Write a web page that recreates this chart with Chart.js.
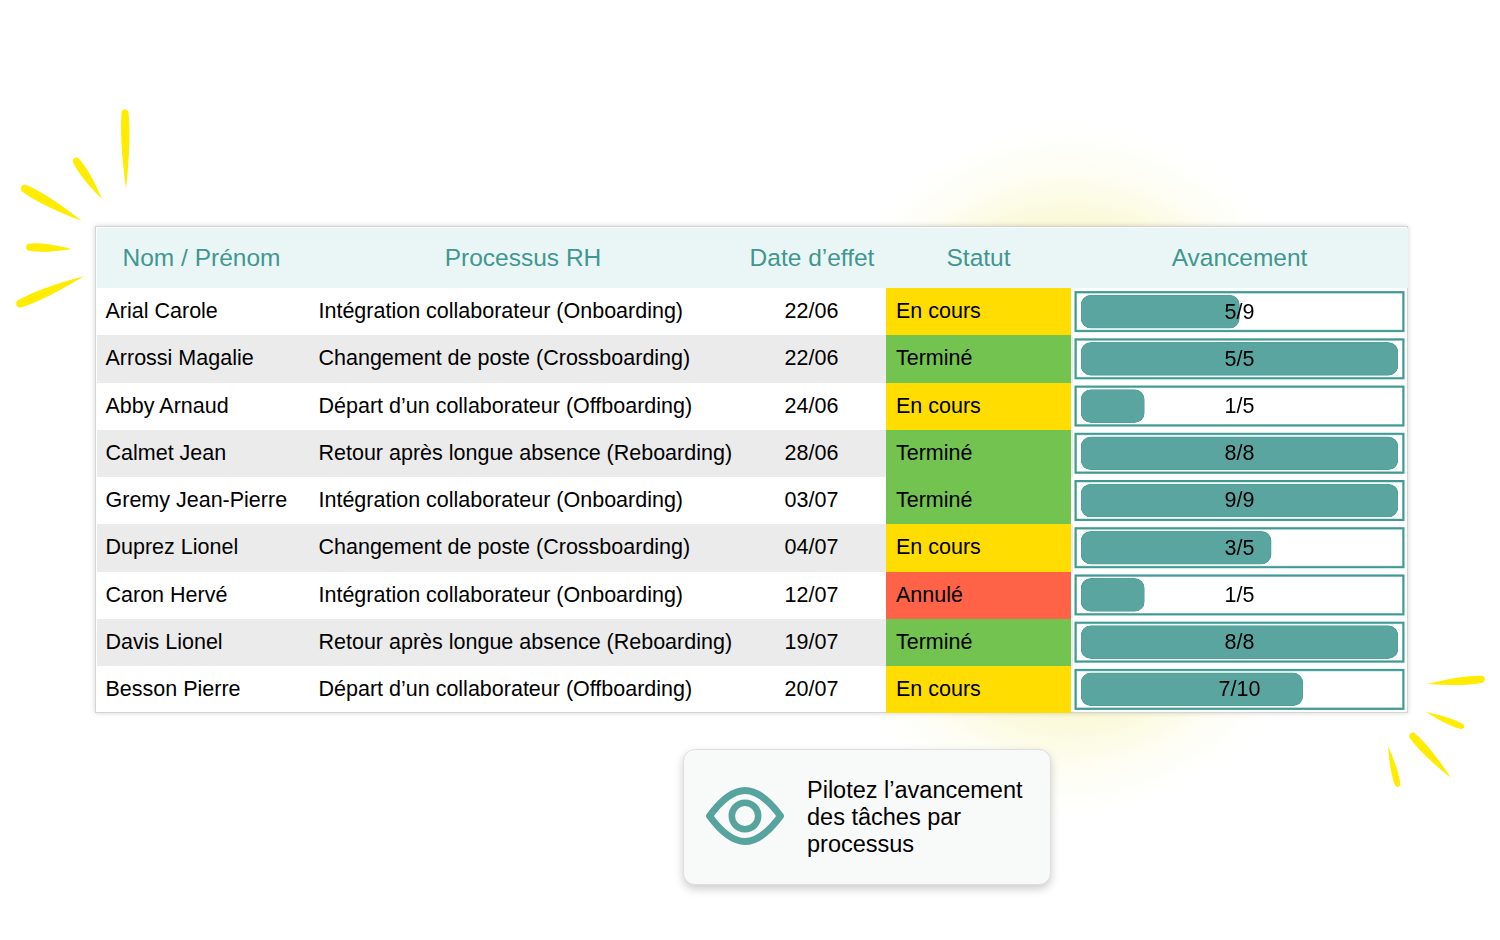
<!DOCTYPE html>
<html lang="fr">
<head>
<meta charset="utf-8">
<title>Pilotez l'avancement</title>
<script src="https://cdn.jsdelivr.net/npm/chart.js@4"></script>
<style>
html, body { margin: 0; padding: 0; background: #fff; }
body { width: 1500px; height: 940px; position: relative; overflow: hidden; font-family: "Liberation Sans", Arial, sans-serif; color: #000; }
#glow { position: absolute; left: 0; top: 0; width: 1500px; height: 940px;
	background: radial-gradient(ellipse 280px 350px at 1070px 470px, rgba(240,235,120,.5) 0, rgba(240,235,120,.3) 70%, rgba(240,235,120,.08) 86%, rgba(240,235,120,0) 100%); }
#sparks { position: absolute; left: 0; top: 0; }
#table { position: absolute; left: 95px; top: 226px; width: 1313px; height: 487px; background: #fff; border: 1px solid #d4d4d4; box-sizing: border-box; box-shadow: 0 0 5px rgba(0,0,0,.18); }
.head { position: absolute; left: 97px; top: 228px; width: 1311px; height: 60px; background: #eaf6f6; }
.hcell { position: absolute; top: 228px; height: 60px; line-height: 60px; font-size: 24.5px; color: #41978f; transform: translateX(-50%); white-space: nowrap; }
.stripe { position: absolute; left: 97px; width: 976px; background: #ebebeb; }
.status { position: absolute; left: 886px; width: 185px; }
.cell { position: absolute; font-size: 21.5px; white-space: nowrap; }
#progress { position: absolute; left: 1072px; top: 288px; }
#card { position: absolute; left: 683px; top: 749px; width: 368px; height: 136px; box-sizing: border-box; background: #f8faf9; border: 1px solid #dedede; border-radius: 12px; box-shadow: 0 4px 10px rgba(0,0,0,.2); }
#cardText { position: absolute; left: 807px; top: 777px; font-size: 23.5px; line-height: 27.2px; white-space: nowrap; }
#eye { position: absolute; left: 700px; top: 780px; }
</style>
</head>
<body>
<div id="glow"></div>
<svg id="sparks" width="1500" height="940"></svg>
<div id="table"></div>
<div class="head"></div>
<div id="rows"></div>
<canvas id="progress" width="336" height="425"></canvas>
<div id="card"></div>
<svg id="eye" width="90" height="72" viewBox="700 780 90 72">
	<path d="M709.5 816 C722 799 733 790.500 745 790.500 C757 790.500 768 799 780.500 816 C768 833 757 841.500 745 841.500 C733 841.500 722 833 709.500 816 Z" fill="none" stroke="#57a49e" stroke-width="7" stroke-linejoin="round"/>
	<circle cx="745" cy="816" r="13.200" fill="none" stroke="#57a49e" stroke-width="6.500"/>
</svg>
<div id="cardText">Pilotez l’avancement<br>des tâches par<br>processus</div>
<script>
'use strict'

const headers = ['Nom / Prénom', 'Processus RH', 'Date d’effet', 'Statut', 'Avancement'];
const names = ['Arial Carole', 'Arrossi Magalie', 'Abby Arnaud', 'Calmet Jean', 'Gremy Jean-Pierre', 'Duprez Lionel', 'Caron Hervé', 'Davis Lionel', 'Besson Pierre'];
const processes = [
	'Intégration collaborateur (Onboarding)',
	'Changement de poste (Crossboarding)',
	'Départ d’un collaborateur (Offboarding)',
	'Retour après longue absence (Reboarding)',
	'Intégration collaborateur (Onboarding)',
	'Changement de poste (Crossboarding)',
	'Intégration collaborateur (Onboarding)',
	'Retour après longue absence (Reboarding)',
	'Départ d’un collaborateur (Offboarding)',
];
const dates = ['22/06', '22/06', '24/06', '28/06', '03/07', '04/07', '12/07', '19/07', '20/07'];
const statuses = ['En cours', 'Terminé', 'En cours', 'Terminé', 'Terminé', 'En cours', 'Annulé', 'Terminé', 'En cours'];
const progressLabels = ['5/9', '5/5', '1/5', '8/8', '9/9', '3/5', '1/5', '8/8', '7/10'];
// bar lengths, in percent of the track
const progressValues = [50, 100, 20, 100, 100, 60, 20, 100, 70];

const statusColors = { 'En cours': '#ffdd00', 'Terminé': '#72c34f', 'Annulé': '#ff6347' };
const teal = '#5ba5a0';
const tealDark = '#3f9a93';

const rowTop = 288;
const rowHeight = 47.25;

// table built from the arrays
const rows = document.getElementById('rows');
function add(className, style, text) {
	let el = document.createElement('div');
	el.className = className;
	Object.assign(el.style, style);
	if (text) el.textContent = text;
	rows.appendChild(el);
}

[201.5, 523, 812, 978.5, 1239.5].forEach((x, i) => add('hcell', { left: x + 'px' }, headers[i]));

names.forEach((name, i) => {
	let top = rowTop + i * rowHeight;
	let line = { top: top + 'px', height: rowHeight + 'px', lineHeight: (rowHeight - 1) + 'px' };
	if (i % 2 === 1) add('stripe', { top: top + 'px', height: rowHeight + 'px' });
	add('status', { top: top + 'px', height: rowHeight + 'px', background: statusColors[statuses[i]] });
	add('cell', { ...line, left: '105.500px' }, name);
	add('cell', { ...line, left: '318.500px' }, processes[i]);
	add('cell', { ...line, left: '811.500px', transform: 'translateX(-50%)' }, dates[i]);
	add('cell', { ...line, left: '896px' }, statuses[i]);
});

// yellow sparks: [x1, y1, x2, y2, width], pointed at the second end
const sparks = [
	[125, 110, 126, 189, 9], [75, 159, 102, 199, 9], [22, 187, 82, 221, 10], [27, 247, 72, 249, 9], [17, 305, 84, 276, 10],
	[1484, 679, 1427, 684, 9], [1463, 727, 1426, 712, 7], [1411, 734, 1451, 778, 9], [1398, 786, 1388, 746, 7],
];
const sparkSvg = document.getElementById('sparks');
sparks.forEach(([x1, y1, x2, y2, w]) => {
	let len = Math.hypot(x2 - x1, y2 - y1);
	let nx = -(y2 - y1) / len * w * 0.62, ny = (x2 - x1) / len * w * 0.62;
	let mx = x1 + (x2 - x1) * 0.35, my = y1 + (y2 - y1) * 0.35;
	let sx = x1 + (x2 - x1) * 0.02, sy = y1 + (y2 - y1) * 0.02;
	let d = `M${sx + nx * 0.6} ${sy + ny * 0.6} Q${mx + nx * 1.1} ${my + ny * 1.1} ${x2} ${y2} Q${mx - nx * 1.1} ${my - ny * 1.1} ${sx - nx * 0.6} ${sy - ny * 0.6} Q${x1 - (x2 - x1) / len * 3} ${y1 - (y2 - y1) / len * 3} ${sx + nx * 0.6} ${sy + ny * 0.6} Z`;
	let p = document.createElementNS('http://www.w3.org/2000/svg', 'path');
	p.setAttribute('d', d);
	p.setAttribute('fill', '#ffec00');
	sparkSvg.appendChild(p);
});

// track frames behind the bars, labels on top
const progressPlugin = {
	id: 'progressCells',
	beforeDatasetsDraw(chart) {
		const { ctx, scales: { x, y } } = chart;
		ctx.save();
		progressLabels.forEach((label, i) => {
			let cy = y.getPixelForValue(i);
			ctx.strokeStyle = '#a9d3cf';
			ctx.lineWidth = 1;
			ctx.strokeRect(x.left - 4.5, cy - 18.5, x.right - x.left + 9, 37);
			ctx.strokeStyle = tealDark;
			ctx.lineWidth = 2;
			ctx.strokeRect(x.left - 5.5, cy - 19.5, x.right - x.left + 11, 39);
		});
		ctx.restore();
	},
	afterDatasetsDraw(chart) {
		const { ctx, scales: { x, y } } = chart;
		ctx.save();
		ctx.font = '21.5px "Liberation Sans", Arial, sans-serif';
		ctx.fillStyle = '#000';
		ctx.textAlign = 'center';
		ctx.textBaseline = 'middle';
		progressLabels.forEach((label, i) => {
			ctx.fillText(label, x.getPixelForValue(50), y.getPixelForValue(i) + 1);
		});
		ctx.restore();
	},
};

new Chart(document.getElementById('progress'), {
	type: 'bar',
	data: {
		labels: names,
		datasets: [{
			data: progressValues,
			backgroundColor: teal,
			borderColor: '#52a09a',
			borderWidth: 1,
			borderRadius: 10,
			borderSkipped: false,
			barThickness: 33,
		}],
	},
	options: {
		indexAxis: 'y',
		responsive: false,
		animation: false,
		devicePixelRatio: 1,
		layout: { padding: { left: 9, right: 10, top: 0, bottom: 0 } },
		plugins: { legend: { display: false }, tooltip: { enabled: false } },
		scales: {
			x: { display: false, min: 0, max: 100 },
			y: { display: false },
		},
	},
	plugins: [progressPlugin],
});
</script>
</body>
</html>
